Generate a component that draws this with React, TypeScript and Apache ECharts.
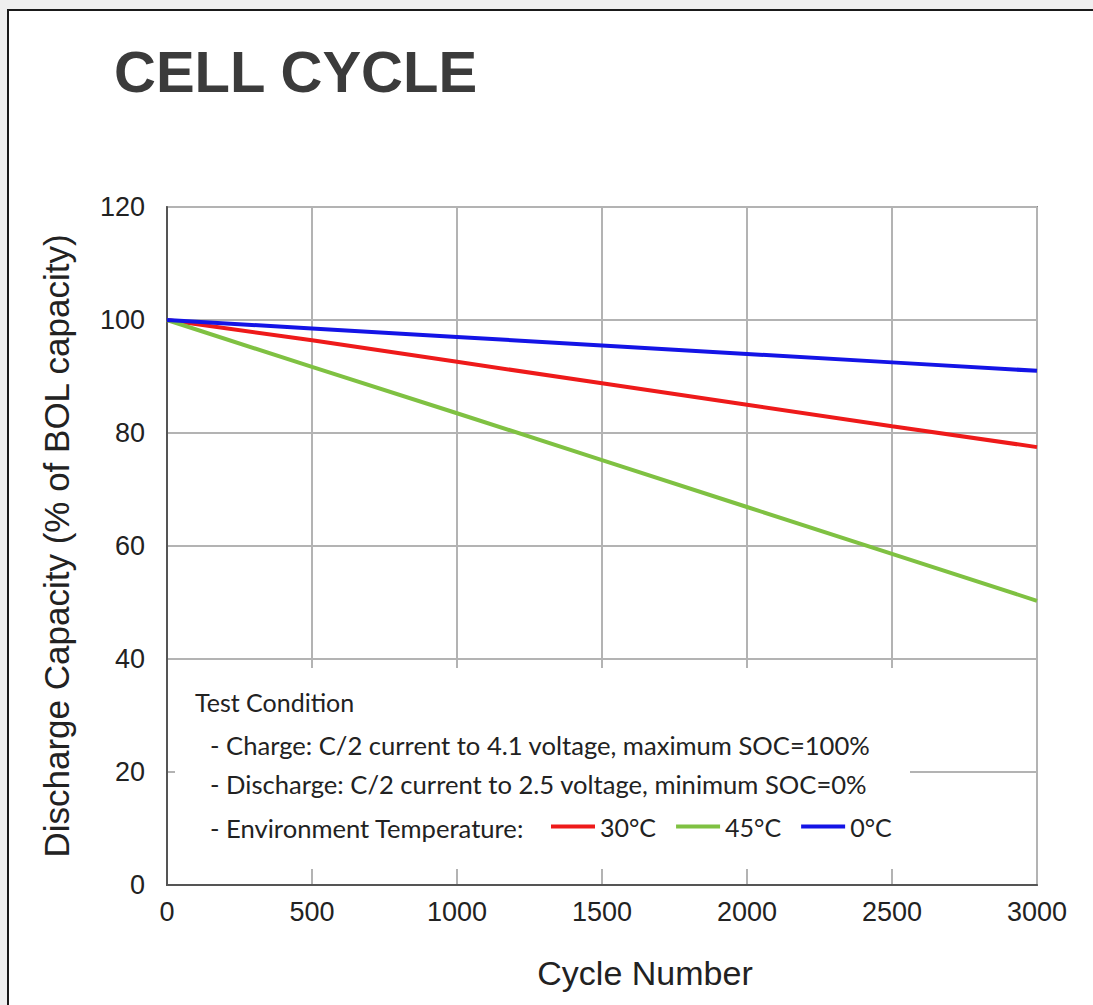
import React, { useEffect, useRef } from "react";
import * as echarts from "echarts";

const cycles = [0, 500, 1000, 1500, 2000, 2500, 3000];
const temp30 = [100, 96.4, 92.6, 88.8, 85.0, 81.2, 77.5];
const temp45 = [100, 91.7, 83.5, 75.2, 66.9, 58.6, 50.3];
const temp0 = [100, 98.5, 97.0, 95.5, 94.0, 92.5, 91.0];
const seriesNames = ["30°C", "45°C", "0°C"];
const seriesColors = ["#ee1a1a", "#7fc142", "#1414e6"];
const conditionLines = [
  "- Charge: C/2 current to 4.1 voltage, maximum SOC=100%",
  "- Discharge: C/2 current to 2.5 voltage, minimum SOC=0%",
  "- Environment Temperature:",
];

const SANS = "'Liberation Sans', Arial, Helvetica, sans-serif";
const LEG = "Lato, 'Liberation Sans', sans-serif";

export default function App() {
  const ref = useRef<HTMLDivElement>(null);
  useEffect(() => {
    if (!ref.current) return;
    const chart = echarts.init(ref.current, null, { renderer: "svg" });
    const toPairs = (vals: number[]) => cycles.map((c, i) => [c, vals[i]]);
    const allVals = [temp30, temp45, temp0];
    chart.setOption({
      animation: false,
      backgroundColor: "transparent",
      grid: {
        left: 167,
        right: 56,
        top: 207,
        bottom: 120,
        show: true,
        borderColor: "#8a8a8a",
        borderWidth: 2,
        backgroundColor: "transparent",
      },
      xAxis: {
        type: "value",
        min: 0,
        max: 3000,
        interval: 500,
        name: "Cycle Number",
        nameLocation: "middle",
        nameGap: 71,
        nameTextStyle: {
          fontFamily: SANS,
          fontSize: 34,
          color: "#222",
          padding: [0, 0, 0, 86],
        },
        axisLine: { show: true, lineStyle: { color: "#555", width: 2 } },
        axisTick: { show: false },
        axisLabel: {
          fontFamily: SANS,
          fontSize: 27,
          color: "#222",
          margin: 13,
          formatter: (v: number) => String(v),
        },
        splitLine: { show: true, lineStyle: { color: "#b3b3b3", width: 2 } },
      },
      yAxis: {
        type: "value",
        min: 0,
        max: 120,
        interval: 20,
        name: "Discharge Capacity (% of BOL capacity)",
        nameLocation: "middle",
        nameGap: 93,
        nameTextStyle: { fontFamily: SANS, fontSize: 35, color: "#222" },
        axisLine: { show: true, lineStyle: { color: "#555", width: 2 } },
        axisTick: { show: false },
        axisLabel: {
          fontFamily: SANS,
          fontSize: 27,
          color: "#222",
          margin: 22,
        },
        splitLine: { show: true, lineStyle: { color: "#b3b3b3", width: 2 } },
      },
      legend: {
        left: 551,
        top: 814,
        padding: 0,
        itemGap: 20,
        itemWidth: 44,
        itemHeight: 4,
        icon: "rect",
        z: 20,
        data: seriesNames,
        textStyle: { fontFamily: LEG, fontSize: 25, color: "#222" },
      },
      graphic: [
        {
          type: "text",
          left: 114,
          top: 42,
          style: {
            text: "CELL CYCLE",
            fontFamily: SANS,
            fontWeight: "bold",
            fontSize: 58,
            fill: "#3b3b3b",
          },
        },
        {
          type: "rect",
          z: 10,
          shape: { x: 175, y: 668, width: 735, height: 201 },
          style: { fill: "#ffffff" },
        },
        {
          type: "text",
          z: 11,
          x: 195,
          y: 702,
          style: {
            text: "Test Condition",
            fontFamily: LEG,
            fontSize: 25,
            fill: "#222",
            verticalAlign: "middle",
          },
        },
        ...conditionLines.map((t, i) => ({
          type: "text",
          z: 11,
          x: 210,
          y: [745, 784, 828][i],
          style: {
            text: t,
            fontFamily: LEG,
            fontSize: 25.6,
            fill: "#222",
            verticalAlign: "middle",
          },
        })),
      ],
      series: seriesNames.map((n, i) => ({
        name: n,
        type: "line",
        data: toPairs(allVals[i]),
        showSymbol: false,
        symbol: "none",
        color: seriesColors[i],
        lineStyle: { width: 4, color: seriesColors[i] },
        z: 5,
      })),
    });
    return () => chart.dispose();
  }, []);
  return (
    <div style={{ position: "fixed", left: 0, top: 0, width: 1093, height: 1005, background: "#efefef" }}>
      <div
        style={{
          position: "absolute",
          left: 7,
          top: 9,
          right: 0,
          bottom: 0,
          background: "#fff",
          borderLeft: "2px solid #1a1a1a",
          borderTop: "2px solid #1a1a1a",
        }}
      />
      <div ref={ref} style={{ position: "absolute", left: 0, top: 0, width: 1093, height: 1005 }} />
    </div>
  );
}
